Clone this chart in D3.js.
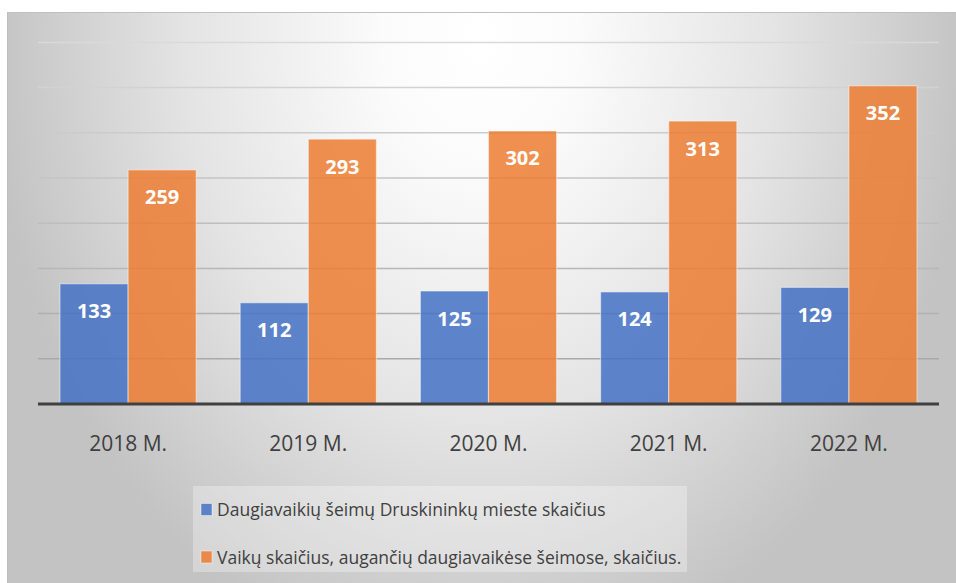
<!DOCTYPE html>
<html>
<head>
<meta charset="utf-8">
<script src="https://cdn.jsdelivr.net/npm/d3@7"></script>
<style>
  body { margin: 0; background: #fff; }
  svg { display: block; font-family: "Open Sans", sans-serif; }
</style>
</head>
<body>
<div id="chart"></div>
<script>
// data
const years = ["2018 M.", "2019 M.", "2020 M.", "2021 M.", "2022 M."]
const families = [133, 112, 125, 124, 129]
const children = [259, 293, 302, 313, 352]
const seriesNames = [
  "Daugiavaikių šeimų Druskininkų mieste skaičius",
  "Vaikų skaičius, augančių daugiavaikėse šeimose, skaičius."
]
const yTicks = [50, 100, 150, 200, 250, 300, 350, 400]

const width = 956
const height = 583
const colors = ["#4472c4", "#ed7d31"]

const svg = d3.select("#chart")
  .append("svg")
    .attr("width", width)
    .attr("height", height)

// radial grey background like the office chart area
const defs = svg.append("defs")
const grad = defs.append("radialGradient")
  .attr("id", "bg")
  .attr("gradientUnits", "userSpaceOnUse")
  .attr("cx", 480).attr("cy", 40).attr("r", 490)
  .attr("gradientTransform", "translate(480,40) scale(1,1.3) translate(-480,-40)")
grad.append("stop").attr("offset", 0).attr("stop-color", "#ffffff")
grad.append("stop").attr("offset", 0.2).attr("stop-color", "#fbfbfb")
grad.append("stop").attr("offset", 0.6).attr("stop-color", "#e4e4e4")
grad.append("stop").attr("offset", 1).attr("stop-color", "#c3c3c3")

svg.append("rect")
  .attr("x", 7.5).attr("y", 12.5)
  .attr("width", 960).attr("height", 580)
  .attr("fill", "url(#bg)")
  .attr("stroke", "#bfbfbf")

// scales
const x0 = d3.scaleBand()
  .domain(years)
  .range([38, 939])
  .paddingInner(0.244)
  .paddingOuter(0.122)

const x1 = d3.scaleBand()
  .domain([0, 1])
  .range([0, x0.bandwidth()])

const y = d3.scaleLinear()
  .domain([0, 400])
  .range([404, 42.4])

// gridlines get darker towards the bottom
const gridColor = d3.scaleLinear()
  .domain([50, 400])
  .range(["#a9a9a9", "#d9d9d9"])

svg.append("g")
  .selectAll("line")
  .data(yTicks)
  .join("line")
    .attr("x1", 38).attr("x2", 939)
    .attr("y1", d => y(d)).attr("y2", d => y(d))
    .attr("stroke", d => gridColor(d))
    .attr("stroke-width", 1.5)

// bars
const rows = years.map((yr, i) => ({ year: yr, values: [families[i], children[i]] }))

const groups = svg.append("g")
  .selectAll("g")
  .data(rows)
  .join("g")
    .attr("transform", d => `translate(${x0(d.year)},0)`)

groups.selectAll("rect")
  .data(d => d.values.map((v, k) => ({ k: k, v: v })))
  .join("rect")
    .attr("x", d => x1(d.k))
    .attr("y", d => y(d.v))
    .attr("width", x1.bandwidth())
    .attr("height", d => y(0) - y(d.v))
    .attr("fill", d => colors[d.k])
    .attr("fill-opacity", 0.85)
    .attr("stroke", "#ffffff")
    .attr("stroke-opacity", 0.45)
    .attr("stroke-width", 1.2)

groups.selectAll("text")
  .data(d => d.values.map((v, k) => ({ k: k, v: v })))
  .join("text")
    .attr("x", d => x1(d.k) + x1.bandwidth() / 2)
    .attr("y", d => y(d.v) + 34.5)
    .attr("text-anchor", "middle")
    .attr("fill", "#ffffff")
    .attr("font-weight", "bold")
    .attr("font-size", 20)
    .text(d => d.v)

// axis line
svg.append("line")
  .attr("x1", 38).attr("x2", 939)
  .attr("y1", y(0)).attr("y2", y(0))
  .attr("stroke", "#404040")
  .attr("stroke-width", 3)

// category labels
svg.append("g")
  .selectAll("text")
  .data(years)
  .join("text")
    .attr("x", d => x0(d) + x0.bandwidth() / 2)
    .attr("y", 451)
    .attr("text-anchor", "middle")
    .attr("fill", "#404040")
    .attr("font-size", 21)
    .text(d => d)

// legend
const legend = svg.append("g")
legend.append("rect")
  .attr("x", 193).attr("y", 486)
  .attr("width", 494).attr("height", 86)
  .attr("fill", "#ffffff")
  .attr("fill-opacity", 0.3)

const items = legend.selectAll("g")
  .data(seriesNames)
  .join("g")
    .attr("transform", (d, i) => `translate(0,${i * 47.5})`)

items.append("rect")
  .attr("x", 201).attr("y", 503.5)
  .attr("width", 11).attr("height", 12)
  .attr("fill", (d, i) => colors[i])
  .attr("fill-opacity", 0.85)
  .attr("stroke", "#ffffff")
  .attr("stroke-opacity", 0.45)

items.append("text")
  .attr("x", 217).attr("y", 516)
  .attr("fill", "#404040")
  .attr("font-size", 17.5)
  .text(d => d)
</script>
</body>
</html>
